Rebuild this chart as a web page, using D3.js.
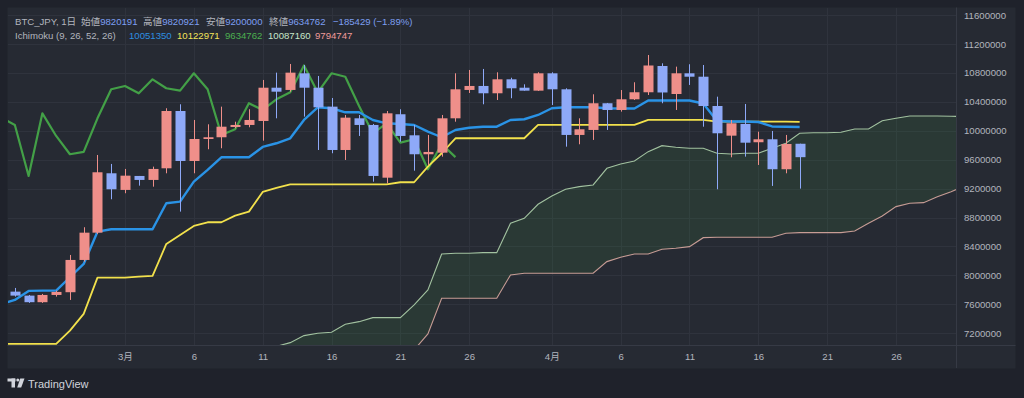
<!DOCTYPE html>
<html><head><meta charset="utf-8">
<script src="https://cdn.jsdelivr.net/npm/d3@7"></script>
<style>
html,body{margin:0;padding:0;background:#1e212a;}
svg{display:block;}
</style></head><body>
<svg id="c" width="1024" height="398"></svg>
<script>
// ---------- data ----------
const candleDates = ["2024-02-22","2024-02-23","2024-02-24","2024-02-25","2024-02-26","2024-02-27","2024-02-28","2024-02-29",
"2024-03-01","2024-03-02","2024-03-03","2024-03-04","2024-03-05","2024-03-06","2024-03-07","2024-03-08","2024-03-09","2024-03-10",
"2024-03-11","2024-03-12","2024-03-13","2024-03-14","2024-03-15","2024-03-16","2024-03-17","2024-03-18","2024-03-19","2024-03-20",
"2024-03-21","2024-03-22","2024-03-23","2024-03-24","2024-03-25","2024-03-26","2024-03-27","2024-03-28","2024-03-29","2024-03-30","2024-03-31",
"2024-04-01","2024-04-02","2024-04-03","2024-04-04","2024-04-05","2024-04-06","2024-04-07","2024-04-08","2024-04-09","2024-04-10",
"2024-04-11","2024-04-12","2024-04-13","2024-04-14","2024-04-15","2024-04-16","2024-04-17","2024-04-18","2024-04-19"];
const openVals = [7776000,7721000,7630000,7730000,7768000,8214000,8591000,9412000,
9182000,9375000,9320000,9481000,10273000,9582000,9886000,9910000,10052000,10080000,
10135000,10595000,10564000,10794000,10595000,10333000,9734000,10172000,10080000,9351000,
10228000,9937000,9675000,9697000,10172000,10564000,10619000,10518000,10711000,10595000,10554000,
10794000,10573000,9942000,10011000,10380000,10287000,10435000,10532000,10895000,10508000,
10794000,10747000,10342000,9932000,10094000,9841000,9882000,9468000,9820191];
const highVals = [7827000,7730000,7744000,7790000,8283000,8666000,9665000,9541000,
9472000,9375000,9504000,10311000,10366000,10149000,10089000,10333000,10125000,10297000,
10702000,10803000,10923000,10909000,10757000,10453000,10218000,10218000,10094000,10273000,
10297000,10080000,9942000,10218000,10794000,10840000,10854000,10808000,10733000,10642000,10808000,
10808000,10587000,10172000,10504000,10384000,10563000,10670000,11047000,10932000,10886000,
10919000,10909000,10471000,10149000,10370000,9987000,9997000,9942000,9820921];
const lowVals = [7707000,7620000,7620000,7707000,7661000,8191000,8573000,9053000,
9136000,9241000,9227000,9412000,8882000,9412000,9744000,9758000,10034000,10048000,
9863000,10172000,10540000,10195000,9734000,9689000,9596000,9928000,9296000,9274000,
9849000,9448000,9527000,9642000,10125000,10522000,10366000,10425000,10449000,10554000,10550000,
10356000,9780000,9813000,9873000,10011000,10264000,10425000,10494000,10380000,10287000,
10633000,10056000,9191000,9633000,9642000,9527000,9237000,9412000,9200000];
const closeVals = [7721000,7630000,7730000,7772000,8214000,8591000,9426000,9191000,
9379000,9320000,9472000,10273000,9582000,9886000,9910000,10056000,10080000,10149000,
10595000,10540000,10803000,10595000,10324000,9734000,10181000,10080000,9375000,10241000,
9928000,9675000,9707000,10172000,10573000,10619000,10518000,10711000,10587000,10554000,10794000,
10573000,9942000,10020000,10380000,10287000,10435000,10532000,10902000,10529000,10794000,
10747000,10342000,9965000,10103000,9835000,9882000,9468000,9817000,9634762];

const lineDates = ["2024-02-21"].concat(candleDates);
const tenkanVals = [7606000,7661000,7786000,7790000,7790000,7975000,8159000,8605000,8638000,
8638000,8638000,8638000,8998000,9020000,9296000,9458000,9633000,9633000,9633000,
9776000,9827000,9896000,10149000,10324000,10311000,10255000,10255000,10149000,10103000,
10094000,10080000,9987000,9910000,10011000,10042000,10056000,10056000,10149000,10159000,10218000,
10311000,10324000,10324000,10324000,10311000,10308000,10308000,10418000,10418000,10418000,
10418000,10377000,10135000,10128000,10128000,10121000,10059000,10056000,10051350];
const kijunVals = [7053000,7053000,7053000,7053000,7053000,7237000,7468000,7969000,7969000,
7969000,7983000,7993000,8435000,8560000,8684000,8735000,8735000,8826000,8882000,
9154000,9209000,9260000,9260000,9260000,9260000,9260000,9260000,9260000,9260000,
9288000,9288000,9504000,9689000,9896000,9896000,9896000,9896000,9896000,9896000,10080000,
10080000,10080000,10080000,10080000,10080000,10080000,10080000,10149000,10149000,10149000,
10149000,10149000,10125000,10125000,10125000,10125000,10125000,10125000,10122971];

const cloudDates = ["2024-03-11","2024-03-12","2024-03-13","2024-03-14","2024-03-15","2024-03-16","2024-03-17","2024-03-18","2024-03-19","2024-03-20",
"2024-03-21","2024-03-22","2024-03-23","2024-03-24","2024-03-25","2024-03-26","2024-03-27","2024-03-28","2024-03-29","2024-03-30","2024-03-31",
"2024-04-01","2024-04-02","2024-04-03","2024-04-04","2024-04-05","2024-04-06","2024-04-07","2024-04-08","2024-04-09","2024-04-10",
"2024-04-11","2024-04-12","2024-04-13","2024-04-14","2024-04-15","2024-04-16","2024-04-17","2024-04-18","2024-04-19","2024-04-20",
"2024-04-21","2024-04-22","2024-04-23","2024-04-24","2024-04-25","2024-04-26","2024-04-27","2024-04-28","2024-04-29","2024-04-30","2024-05-01"];
const senkouAVals = [6943000,7019000,7071000,7168000,7201000,7215000,7325000,7361000,7417000,7417000,
7417000,7592000,7800000,8297000,8307000,8307000,8315000,8315000,8721000,8790000,8984000,
9099000,9191000,9227000,9251000,9481000,9541000,9582000,9711000,9794000,9772000,
9758000,9758000,9689000,9679000,9689000,9689000,9758000,9827000,9965000,9973000,
9973000,9979000,10025000,10025000,10139000,10172000,10204000,10204000,10204000,10200000,10198000];
const senkouBVals = [6850000,6850000,6850000,6850000,6850000,6850000,6850000,6850000,6850000,6850000,
6850000,6970000,7191000,7685000,7685000,7685000,7685000,7685000,8007000,8030000,8030000,
8030000,8030000,8030000,8030000,8191000,8251000,8297000,8297000,8362000,8376000,
8398000,8522000,8528000,8528000,8528000,8528000,8528000,8583000,8592000,8592000,
8592000,8592000,8615000,8721000,8822000,8951000,8998000,9006000,9089000,9158000,9236000];

const chikouShift = 25;
const yTicks = [11600000,11200000,10800000,10400000,10000000,9600000,9200000,8800000,8400000,8000000,7600000,7200000];
const xTickDates = ["2024-03-01","2024-03-06","2024-03-11","2024-03-16","2024-03-21","2024-03-26","2024-04-01","2024-04-06","2024-04-11","2024-04-16","2024-04-21","2024-04-26"];
const xTickLabels = ["3月","6","11","16","21","26","4月","6","11","16","21","26"];

// ---------- setup ----------
const parse = d3.utcParse("%Y-%m-%d");
const FONT = '"Liberation Sans", Arial, "Noto Sans CJK JP", sans-serif';
const C = {bg:"#1f222b", panel:"#262a33", grid:"#2f333d", sep:"#363a45", text:"#b2b5be",
  up:"#ef8f8a", down:"#8ea9f8", tenkan:"#2a93e6", kijun:"#f2e14c", chikou:"#43a047",
  spanA:"#a2c2a0", spanB:"#c79c95", cloud:"rgba(67,160,71,0.13)"};
const plot = {l:8, r:956, t:8, b:345};

const x = d3.scaleUtc()
  .domain([new Date(Date.UTC(2024,1,21,12,3)), new Date(Date.UTC(2024,3,30,8,34))])
  .range([plot.l, plot.r]);
const y = d3.scaleLinear().domain([7200000, 11600000]).range([333.3, 15]);

const candles = candleDates.map((d,i)=>({date:parse(d), o:openVals[i], h:highVals[i], l:lowVals[i], c:closeVals[i]}));
const tenkan = lineDates.map((d,i)=>({date:parse(d), v:tenkanVals[i]}));
const kijun = lineDates.map((d,i)=>({date:parse(d), v:kijunVals[i]}));
const chikou = candleDates.map((d,i)=>({date:d3.utcDay.offset(parse(d), -chikouShift), v:closeVals[i]}));
const cloud = cloudDates.map((d,i)=>({date:parse(d), a:senkouAVals[i], b:senkouBVals[i]}));

const svg = d3.select("#c");
svg.append("rect").attr("width",1024).attr("height",398).attr("fill",C.bg);
svg.append("rect").attr("x",7.5).attr("y",7.5).attr("width",1008).attr("height",361).attr("fill",C.panel);

svg.append("defs").append("clipPath").attr("id","clip")
  .append("rect").attr("x",plot.l).attr("y",plot.t).attr("width",plot.r-plot.l).attr("height",plot.b-plot.t);

// grid
const grid = svg.append("g");
grid.selectAll("line.h").data(yTicks).join("line")
  .attr("x1",plot.l).attr("x2",plot.r).attr("y1",d=>Math.round(y(d))+0.5).attr("y2",d=>Math.round(y(d))+0.5)
  .attr("stroke",C.grid).attr("stroke-width",1);
grid.selectAll("line.v").data(xTickDates).join("line")
  .attr("y1",plot.t).attr("y2",plot.b).attr("x1",d=>Math.round(x(parse(d)))+0.5).attr("x2",d=>Math.round(x(parse(d)))+0.5)
  .attr("stroke",C.grid).attr("stroke-width",1);

// separators
svg.append("line").attr("x1",plot.r+0.5).attr("x2",plot.r+0.5).attr("y1",7.5).attr("y2",368).attr("stroke",C.sep);
svg.append("line").attr("x1",7.5).attr("x2",1015.5).attr("y1",plot.b+0.5).attr("y2",plot.b+0.5).attr("stroke",C.sep);

const g = svg.append("g").attr("clip-path","url(#clip)");

// cloud
g.append("path").datum(cloud)
  .attr("d", d3.area().x(d=>x(d.date)).y0(d=>y(d.b)).y1(d=>y(d.a)))
  .attr("fill",C.cloud);
g.append("path").datum(cloud).attr("d", d3.line().x(d=>x(d.date)).y(d=>y(d.a)))
  .attr("fill","none").attr("stroke",C.spanA).attr("stroke-width",1.1);
g.append("path").datum(cloud).attr("d", d3.line().x(d=>x(d.date)).y(d=>y(d.b)))
  .attr("fill","none").attr("stroke",C.spanB).attr("stroke-width",1.1);

const vline = d3.line().x(d=>x(d.date)).y(d=>y(d.v));
g.append("path").datum(chikou).attr("d",vline).attr("fill","none").attr("stroke",C.chikou).attr("stroke-width",2.2).attr("stroke-linejoin","round");
g.append("path").datum(kijun).attr("d",vline).attr("fill","none").attr("stroke",C.kijun).attr("stroke-width",1.8).attr("stroke-linejoin","round");
g.append("path").datum(tenkan).attr("d",vline).attr("fill","none").attr("stroke",C.tenkan).attr("stroke-width",2.4).attr("stroke-linejoin","round");

// candles
const bw = 10;
const cg = g.selectAll("g.candle").data(candles).join("g");
cg.append("line")
  .attr("x1",d=>Math.round(x(d.date))+0.5).attr("x2",d=>Math.round(x(d.date))+0.5)
  .attr("y1",d=>y(d.h)).attr("y2",d=>y(d.l))
  .attr("stroke",d=>d.c>=d.o?C.up:C.down).attr("stroke-width",1);
cg.append("rect")
  .attr("x",d=>Math.round(x(d.date))+0.5-bw/2).attr("width",bw)
  .attr("y",d=>y(Math.max(d.o,d.c)))
  .attr("height",d=>Math.max(1.5, Math.abs(y(d.o)-y(d.c))))
  .attr("fill",d=>d.c>=d.o?C.up:C.down);

// axes
const yAxis = d3.axisRight(y).tickValues(yTicks).tickSize(0).tickPadding(8).tickFormat(d3.format("d"));
svg.append("g").attr("transform",`translate(${plot.r},0)`).call(yAxis)
  .call(a=>a.select(".domain").remove())
  .attr("font-family",FONT).attr("font-size",9.6)
  .selectAll("text").attr("fill",C.text);

const xAxis = d3.axisBottom(x).tickValues(xTickDates.map(parse)).tickSize(0).tickPadding(8)
  .tickFormat((d,i)=>xTickLabels[i]);
svg.append("g").attr("transform",`translate(0,${plot.b})`).call(xAxis)
  .call(a=>a.select(".domain").remove())
  .attr("font-family",FONT).attr("font-size",9.6)
  .selectAll("text").attr("fill",C.text);

// header legend
const hdr = svg.append("g").attr("font-family",FONT).attr("font-size",9.6);
const line1 = [
  {x:15, parts:[["BTC_JPY, 1日",C.text]]},
  {x:81, parts:[["始値",C.text],["9820191","#7d9ff2"]]},
  {x:143, parts:[["高値",C.text],["9820921","#7d9ff2"]]},
  {x:206, parts:[["安値",C.text],["9200000","#7d9ff2"]]},
  {x:269, parts:[["終値",C.text],["9634762","#7d9ff2"]]},
  {x:333, parts:[["−185429 (−1.89%)","#7d9ff2"]]}
];
const line2 = [
  {x:15, parts:[["Ichimoku (9, 26, 52, 26)",C.text]]},
  {x:129, parts:[["10051350","#2e8fe0"]]},
  {x:177, parts:[["10122971","#f3e45a"]]},
  {x:225, parts:[["9634762","#4caf50"]]},
  {x:268, parts:[["10087160","#c8e6c9"]]},
  {x:315, parts:[["9794747","#ef9a9a"]]}
];
function drawLine(items, yy){
  items.forEach(it=>{
    const t = hdr.append("text").attr("x",it.x).attr("y",yy);
    it.parts.forEach(p=>t.append("tspan").attr("fill",p[1]).text(p[0]));
  });
}
drawLine(line1, 24.5);
drawLine(line2, 38.5);

// TradingView logo
const logo = svg.append("g").attr("fill","#d1d4dc");
logo.append("rect").attr("x",7.5).attr("y",378.5).attr("width",8).attr("height",3);
logo.append("rect").attr("x",11.5).attr("y",378.5).attr("width",3.5).attr("height",9);
logo.append("circle").attr("cx",17.8).attr("cy",380).attr("r",1.5);
logo.append("path").attr("d","M20.2,378.5 L24.5,378.5 L21.2,387.5 L17.2,387.5 Z");
logo.append("text").attr("x",28).attr("y",387.5).attr("font-family",FONT).attr("font-size",11)
  .attr("fill","#d1d4dc").text("TradingView");
</script>
</body></html>
